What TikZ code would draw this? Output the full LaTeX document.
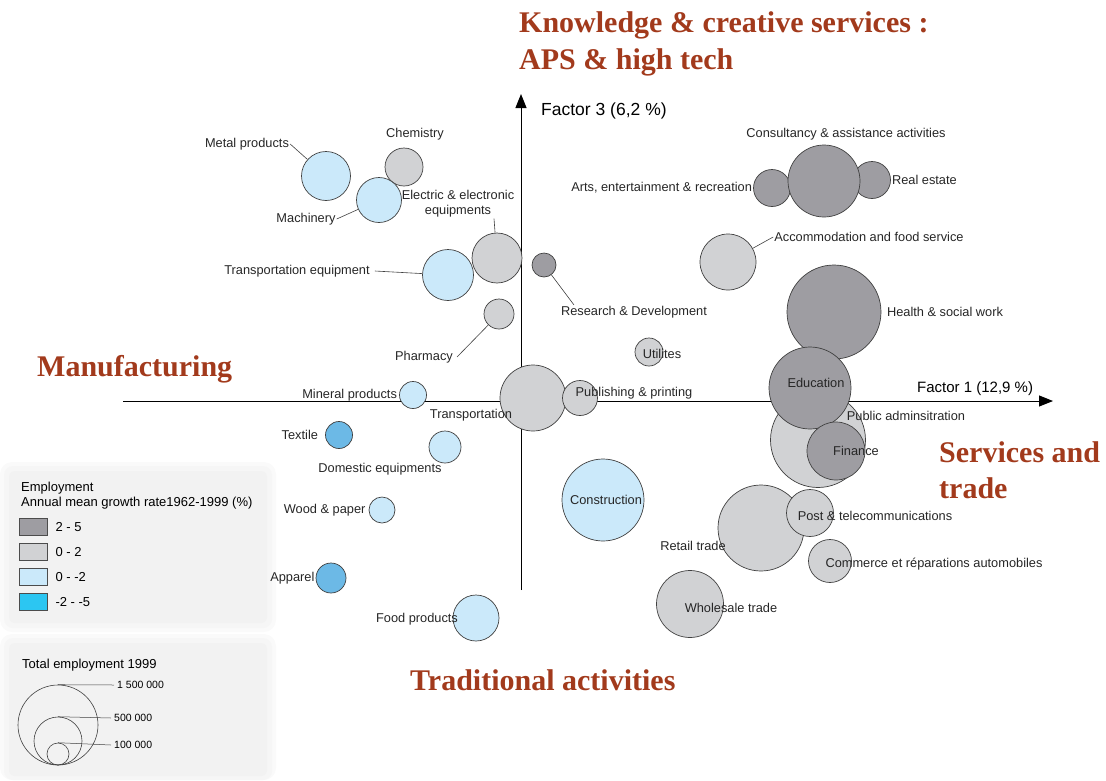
\documentclass[tikz,border=0pt]{standalone}
\usepackage{fontspec}
\setmainfont{Liberation Sans}
\newfontfamily\titlefont{Liberation Serif}
\usetikzlibrary{arrows.meta, positioning}

\definecolor{titlered}{RGB}{162,58,28}
\definecolor{growhigh}{RGB}{158,157,162}
\definecolor{growlow}{RGB}{209,210,212}
\definecolor{lossfew}{RGB}{203,233,250}
\definecolor{lossmany}{RGB}{108,185,230}
\definecolor{losskey}{RGB}{44,198,242}
\definecolor{legbg}{RGB}{242,242,242}

\tikzset{
  bubble/.style={circle, draw=black!75, line width=0.7pt, inner sep=0pt},
  lbl/.style={font=\fontsize{12.8}{15}\selectfont, inner sep=1pt, text=black!85},
  keytext/.style={font=\fontsize{13}{15}\selectfont, inner sep=0pt, anchor=base west},
  quadrant/.style={font=\titlefont\bfseries\fontsize{30}{36}\selectfont, text=titlered, inner sep=0pt, anchor=base west},
  axislbl/.style={font=\fontsize{17.5}{20}\selectfont, inner sep=0pt, anchor=base west},
  swatch/.style={draw=black!70, line width=0.6pt, minimum width=28pt, minimum height=17pt, inner sep=0pt},
  leader/.style={draw=black!75, line width=0.6pt}
}

\begin{document}
\begin{tikzpicture}[x=1pt, y=-1pt]
    \useasboundingbox (0,0) rectangle (1106,780);

    % legend backgrounds
    \fill[legbg!40, rounded corners=12pt] (0,462) rectangle (276,632);
    \fill[legbg!70, rounded corners=9pt]  (4,466) rectangle (272,628);
    \fill[legbg, rounded corners=6pt]     (9,471) rectangle (267,623);
    \fill[legbg!40, rounded corners=12pt] (0,634) rectangle (276,780);
    \fill[legbg!70, rounded corners=9pt]  (4,638) rectangle (272,780);
    \fill[legbg, rounded corners=6pt]     (9,643) rectangle (267,776);

    % axes
    \coordinate (xstart) at (123,401);
    \coordinate (xend)   at (1053,401);
    \coordinate (ystart) at (521,590);
    \coordinate (yend)   at (521,94);
    \draw[line width=1pt, -{Triangle[length=14pt, width=11pt]}] (xstart) -- (xend);
    \draw[line width=1pt, -{Triangle[length=14pt, width=11pt]}] (ystart) -- (yend);

    % manufacturing bubbles
    \node[bubble, fill=lossfew,  minimum size=49pt] (metal)    at (326,176) {};
    \node[bubble, fill=growlow,  minimum size=38pt] (chem)     at (404,167) {};
    \node[bubble, fill=lossfew,  minimum size=45pt] (mach)     at (379,200) {};
    \node[bubble, fill=growlow,  minimum size=50pt] (elec)     at (497,258) {};
    \node[bubble, fill=lossfew,  minimum size=51pt] (tequip)   at (448,275) {};
    \node[bubble, fill=growhigh, minimum size=24pt] (rd)       at (544,265) {};
    \node[bubble, fill=growlow,  minimum size=30pt] (pharm)    at (499,314) {};
    \node[bubble, fill=lossfew,  minimum size=27pt] (mineral)  at (413,395) {};
    \node[bubble, fill=growlow,  minimum size=66pt] (transp)   at (533,398) {};
    \node[bubble, fill=growlow,  minimum size=35pt] (publish)  at (580,398) {};
    \node[bubble, fill=growlow,  minimum size=28pt] (util)     at (649,352) {};
    \node[bubble, fill=lossmany, minimum size=27pt] (textile)  at (339,435) {};
    \node[bubble, fill=lossfew,  minimum size=32pt] (domestic) at (445,447) {};
    \node[bubble, fill=lossfew,  minimum size=26pt] (wood)     at (382,510) {};
    \node[bubble, fill=lossmany, minimum size=30pt] (apparel)  at (331,578) {};
    \node[bubble, fill=lossfew,  minimum size=46pt] (food)     at (476,618) {};
    \node[bubble, fill=lossfew,  minimum size=82pt] (constr)   at (603,500) {};

    % service bubbles
    \node[bubble, fill=growhigh, minimum size=37pt] (arts)     at (772,188) {};
    \node[bubble, fill=growhigh, minimum size=37pt] (realest)  at (872,180) {};
    \node[bubble, fill=growhigh, minimum size=72pt] (consult)  at (824,181) {};
    \node[bubble, fill=growlow,  minimum size=56pt] (accom)    at (728,262) {};
    \node[bubble, fill=growhigh, minimum size=94pt] (health)   at (834,312) {};
    \node[bubble, fill=growlow,  minimum size=95pt] (pubadm)   at (818,440) {};
    \node[bubble, fill=growhigh, minimum size=82pt] (educ)     at (810,388) {};
    \node[bubble, fill=growhigh, minimum size=58pt] (finance)  at (836,451) {};
    \node[bubble, fill=growlow,  minimum size=86pt] (retail)   at (761,528) {};
    \node[bubble, fill=growlow,  minimum size=47pt] (post)     at (810,513) {};
    \node[bubble, fill=growlow,  minimum size=43pt] (autos)    at (830,561) {};
    \node[bubble, fill=growlow,  minimum size=67pt] (wholesale) at (690,604) {};

    % bubble labels
    \node[lbl] (metallbl)   at (247,144) {Metal products};
    \node[lbl] (chemlbl)    at (415,134) {Chemistry};
    \node[lbl] (machlbl)    at (306,219) {Machinery};
    \node[lbl, align=center] (eleclbl) at (458,204) {Electric \& electronic\\equipments};
    \node[lbl] (tequiplbl)  at (297,271) {Transportation equipment};
    \node[lbl] (rdlbl)      at (634,312) {Research \& Development};
    \node[lbl] (pharmlbl)   at (424,357) {Pharmacy};
    \node[lbl, left=1pt of mineral] (minerallbl) {Mineral products};
    \node[lbl] (transplbl)  at (471,415) {Transportation};
    \node[lbl] (publishlbl) at (634,393) {Publishing \& printing};
    \node[lbl] (utillbl)    at (662,354) {Utilites};
    \node[lbl, left=6pt of textile] (textilelbl) {Textile};
    \node[lbl] (domesticlbl) at (380,469) {Domestic equipments};
    \node[lbl, left=2pt of wood] (woodlbl) {Wood \& paper};
    \node[lbl, left=0pt of apparel] (apparellbl) {Apparel};
    \node[lbl] (foodlbl)    at (417,619) {Food products};
    \node[lbl] (constrlbl)  at (606,500) {Construction};
    \node[lbl, left=0pt of arts] (artslbl) {Arts, entertainment \& recreation};
    \node[lbl] (consultlbl) at (846,134) {Consultancy \& assistance activities};
    \node[lbl, right=0pt of realest] (realestlbl) {Real estate};
    \node[lbl] (accomlbl)   at (869,237) {Accommodation and food service};
    \node[lbl] (healthlbl)  at (945,312) {Health \& social work};
    \node[lbl] (educlbl)    at (816,383) {Education};
    \node[lbl] (pubadmlbl)  at (906,416) {Public adminsitration};
    \node[lbl] (financelbl) at (856,451) {Finance};
    \node[lbl] (postlbl)    at (875,516) {Post \& telecommunications};
    \node[lbl] (retaillbl)  at (693,546) {Retail trade};
    \node[lbl] (autoslbl)   at (934,564) {Commerce et réparations automobiles};
    \node[lbl] (wholesalelbl) at (731,608) {Wholesale trade};

    % leader lines
    \draw[leader] (metallbl.east) -- (metal);
    \draw[leader] (machlbl.east) -- (mach);
    \draw[leader] ([xshift=36pt]eleclbl.south) -- (elec);
    \draw[leader] ([xshift=4pt]tequiplbl.east) -- (tequip);
    \draw[leader] ([xshift=14pt]rdlbl.north west) -- (rd);
    \draw[leader] ([xshift=3pt]pharmlbl.east) -- (pharm);
    \draw[leader] (accomlbl.west) -- (accom);

    % axis labels
    \node[axislbl] (f3lbl) at (541,115) {Factor 3 (6,2 \%)};
    \node[axislbl, font=\fontsize{15}{17}\selectfont] (f1lbl) at (917,392) {Factor 1 (12,9 \%)};

    % quadrant titles
    \node[quadrant] (knowA)  at (519,32)  {Knowledge \& creative services :};
    \node[quadrant] (knowB)  at (519,69)  {APS \& high tech};
    \node[quadrant] (manuf)  at (37,376)  {Manufacturing};
    \node[quadrant] (servA)  at (939,462) {Services and};
    \node[quadrant] (servB)  at (939,498) {trade};
    \node[quadrant] (tradit) at (410,690) {Traditional activities};

    % growth rate key
    \node[keytext] (keyhead)  at (21,491) {Employment};
    \node[keytext] (keyhead2) at (21,506) {Annual mean growth rate1962-1999 (\%)};
    \node[swatch, fill=growhigh] (sw1) at (33,527) {};
    \node[swatch, fill=growlow]  (sw2) at (33,552) {};
    \node[swatch, fill=lossfew]  (sw3) at (33,577) {};
    \node[swatch, fill=losskey]  (sw4) at (33,602) {};
    \node[keytext, anchor=west, right=8pt of sw1] (sw1lbl) {2 - 5};
    \node[keytext, anchor=west, right=8pt of sw2] (sw2lbl) {0 - 2};
    \node[keytext, anchor=west, right=8pt of sw3] (sw3lbl) {0 - -2};
    \node[keytext, anchor=west, right=8pt of sw4] (sw4lbl) {-2 - -5};

    % size key
    \node[keytext] (sizehead) at (22,668) {Total employment 1999};
    \node[circle, draw=black!75, line width=0.6pt, inner sep=0pt, minimum size=80pt] (szbig) at (58,725) {};
    \node[circle, draw=black!75, line width=0.6pt, inner sep=0pt, minimum size=48pt] (szmid) at (58,741) {};
    \node[circle, draw=black!75, line width=0.6pt, inner sep=0pt, minimum size=22pt] (szsmall) at (58,754) {};
    \node[keytext, anchor=west, font=\fontsize{10.5}{12}\selectfont] (szbiglbl) at (117,685) {1 500 000};
    \node[keytext, anchor=west, font=\fontsize{10.5}{12}\selectfont] (szmidlbl) at (114,718) {500 000};
    \node[keytext, anchor=west, font=\fontsize{10.5}{12}\selectfont] (szsmalllbl) at (114,745) {100 000};
    \draw[leader, line width=0.5pt] (szbig.north) -- ([xshift=-3pt]szbiglbl.west);
    \draw[leader, line width=0.5pt] (szmid.north) -- ([xshift=-3pt]szmidlbl.west);
    \draw[leader, line width=0.5pt] (szsmall.north) -- ([xshift=-3pt]szsmalllbl.west);
\end{tikzpicture}
\end{document}
